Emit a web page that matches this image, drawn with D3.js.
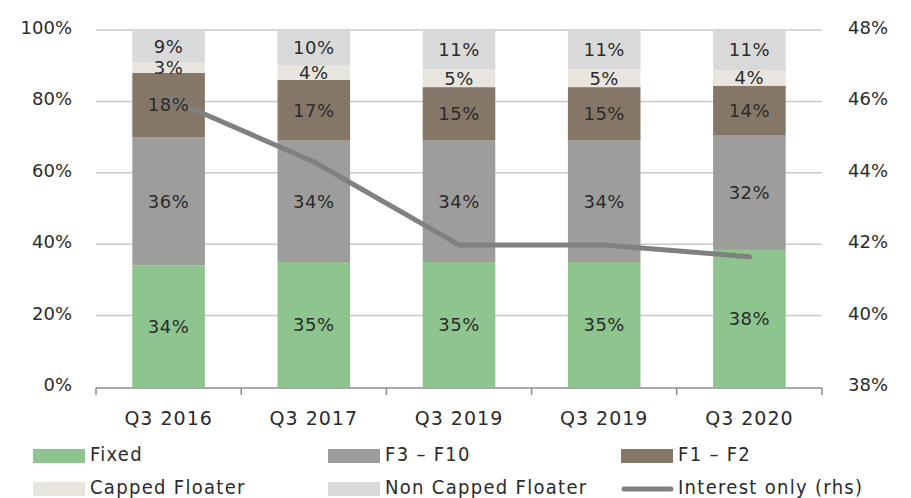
<!DOCTYPE html>
<html>
<head>
<meta charset="utf-8" />
<title>Mortgage rate fixation mix</title>
<script src="https://d3js.org/d3.v7.min.js"></script>
<style>
  body { margin: 0; background: #fff; }
  text { font-family: "DejaVu Sans", sans-serif; fill: #2b2b2b; }
  .legend text { font-family: "DejaVu Sans Condensed", "DejaVu Sans", sans-serif; font-size: 20px; letter-spacing: 1.3px; }
</style>
</head>
<body>
<svg id="chart" width="911" height="498"></svg>
<script>
// categories and series (shares of the book)
var quarters = ["Q3 2016", "Q3 2017", "Q3 2019", "Q3 2019 ", "Q3 2020"];
var quarterLabels = ["Q3 2016", "Q3 2017", "Q3 2019", "Q3 2019", "Q3 2020"];
var fixed = [0.34, 0.35, 0.35, 0.35, 0.384];
var f3f10 = [0.36, 0.34, 0.34, 0.34, 0.32];
var f1f2 = [0.18, 0.17, 0.15, 0.15, 0.14];
var capped = [0.03, 0.04, 0.05, 0.05, 0.044];
var nonCapped = [0.09, 0.10, 0.11, 0.11, 0.112];
var interestOnly = [0.4608, 0.4431, 0.4198, 0.4198, 0.4165];
var leftTicks = [0, 0.2, 0.4, 0.6, 0.8, 1.0];
var rightTicks = [0.38, 0.40, 0.42, 0.44, 0.46, 0.48];

var seriesNames = ["Fixed", "F3 \u2013 F10", "F1 \u2013 F2", "Capped Floater", "Non Capped Floater"];
var seriesColors = ["#8ec48d", "#9d9d9c", "#857767", "#e8e5df", "#d9d9d9"];
var lineColor = "#808080";

var rows = quarters.map(function(q, i) {
  return { q: q, s0: fixed[i], s1: f3f10[i], s2: f1f2[i], s3: capped[i], s4: nonCapped[i] };
});
var keys = ["s0", "s1", "s2", "s3", "s4"];

var svg = d3.select("#chart");
var plotLeft = 96, plotRight = 822, plotTop = 30, plotBottom = 387;

var x = d3.scaleBand().domain(quarters).range([plotLeft, plotRight]).paddingInner(0.5).paddingOuter(0.25);
var y = d3.scaleLinear().domain([0, 1]).range([plotBottom, plotTop]);
var y2 = d3.scaleLinear().domain([0.38, 0.48]).range([plotBottom, plotTop]);
var pct = d3.format(".0%");

// gridlines
svg.append("g").selectAll("line")
  .data(leftTicks.filter(function(t) { return t > 0; }))
  .enter().append("line")
  .attr("x1", plotLeft).attr("x2", plotRight)
  .attr("y1", function(d) { return y(d); }).attr("y2", function(d) { return y(d); })
  .attr("stroke", "#c9c9c9").attr("stroke-width", 1.5);

// stacked bars
var stacked = d3.stack().keys(keys)(rows);
var layers = svg.append("g").selectAll("g")
  .data(stacked).enter().append("g")
  .attr("fill", function(d, i) { return seriesColors[i]; });
layers.selectAll("rect")
  .data(function(d) { return d; })
  .enter().append("rect")
  .attr("x", function(d) { return x(d.data.q); })
  .attr("width", x.bandwidth())
  .attr("y", function(d) { return y(d[1]); })
  .attr("height", function(d) { return y(d[0]) - y(d[1]); });

// bottom axis
var axisG = svg.append("g");
axisG.append("line").attr("x1", plotLeft).attr("x2", plotRight)
  .attr("y1", plotBottom + 1).attr("y2", plotBottom + 1)
  .attr("stroke", "#8c8c8c").attr("stroke-width", 1.5);
axisG.selectAll(".tk").data(d3.range(quarters.length + 1)).enter().append("line")
  .attr("x1", function(i) { return plotLeft + i * x.step(); })
  .attr("x2", function(i) { return plotLeft + i * x.step(); })
  .attr("y1", plotBottom + 1).attr("y2", plotBottom + 8)
  .attr("stroke", "#8c8c8c").attr("stroke-width", 1.5);
axisG.selectAll("text").data(quarters).enter().append("text")
  .attr("x", function(d) { return x(d) + x.bandwidth() / 2; })
  .attr("y", 425)
  .attr("text-anchor", "middle")
  .style("font-size", "19px").style("letter-spacing", "1px")
  .text(function(d, i) { return quarterLabels[i]; });

// left and right tick labels
svg.append("g").selectAll("text").data(leftTicks).enter().append("text")
  .attr("x", 72).attr("y", function(d) { return y(d) + 4; })
  .attr("text-anchor", "end").style("font-size", "18px")
  .text(pct);
svg.append("g").selectAll("text").data(rightTicks).enter().append("text")
  .attr("x", 848).attr("y", function(d) { return y2(d) + 4; })
  .style("font-size", "18px")
  .text(pct);

// interest only line (rhs)
var line = d3.line()
  .x(function(d, i) { return x(quarters[i]) + x.bandwidth() / 2; })
  .y(function(d) { return y2(d); });
svg.append("path").datum(interestOnly)
  .attr("d", line).attr("fill", "none")
  .attr("stroke", lineColor).attr("stroke-width", 5)
  .attr("stroke-linecap", "round").attr("stroke-linejoin", "round");

// data labels
svg.append("g").selectAll("g")
  .data(stacked).enter().append("g")
  .selectAll("text")
  .data(function(d) { return d; })
  .enter().append("text")
  .attr("x", function(d) { return x(d.data.q) + x.bandwidth() / 2; })
  .attr("y", function(d) { return y((d[0] + d[1]) / 2) + 6.5; })
  .attr("text-anchor", "middle")
  .style("font-size", "18px").style("letter-spacing", "0.5px")
  .text(function(d) { return pct(d[1] - d[0]); });

// legend
var legendItems = seriesNames.map(function(n, i) { return { name: n, color: seriesColors[i], kind: "rect" }; });
legendItems.push({ name: "Interest only (rhs)", color: lineColor, kind: "line" });
var legendX = [33, 328, 621];
var legendY = [449, 482];
var lg = svg.append("g").attr("class", "legend").selectAll("g")
  .data(legendItems).enter().append("g")
  .attr("transform", function(d, i) { return "translate(" + legendX[i % 3] + "," + legendY[Math.floor(i / 3)] + ")"; });
lg.filter(function(d) { return d.kind === "rect"; }).append("rect")
  .attr("width", 52).attr("height", 14).attr("fill", function(d) { return d.color; });
lg.filter(function(d) { return d.kind === "line"; }).append("line")
  .attr("x1", 3).attr("x2", 50).attr("y1", 7).attr("y2", 7)
  .attr("stroke", function(d) { return d.color; }).attr("stroke-width", 5)
  .attr("stroke-linecap", "round");
lg.append("text").attr("x", 57).attr("y", 12).text(function(d) { return d.name; });
</script>
</body>
</html>
